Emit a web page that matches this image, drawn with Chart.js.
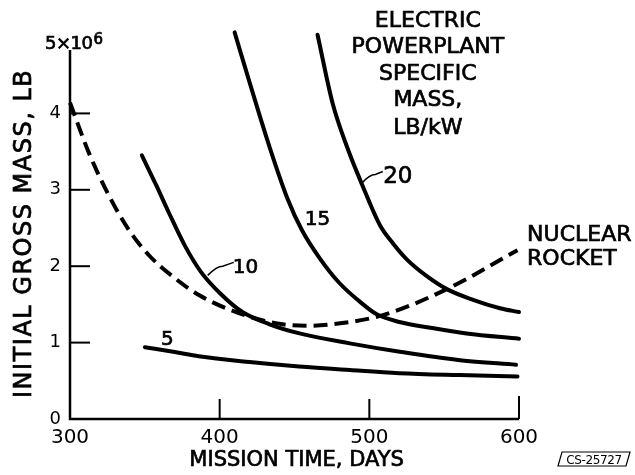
<!DOCTYPE html>
<html>
<head>
<meta charset="utf-8">
<script src="https://cdn.jsdelivr.net/npm/chart.js@4.4.0/dist/chart.umd.min.js"></script>
<style>
  html, body { margin: 0; padding: 0; background: #fff; }
  canvas { display: block; }
</style>
</head>
<body>
<canvas id="chart" width="635" height="475"></canvas>
<script>
// mission time (days) / initial gross mass (millions of lb)
const days5   = [350, 370, 386, 420, 453, 487, 520, 560, 599];
const mass5   = [0.94, 0.876, 0.82, 0.745, 0.686, 0.64, 0.60, 0.575, 0.556];
const days10  = [348, 357.6, 366.3, 377, 387.7, 401.1, 415.2, 433.3, 453.4, 486.9, 520.4, 560.5, 598];
const mass10  = [3.45, 3.06, 2.69, 2.26, 1.92, 1.63, 1.40, 1.24, 1.12, 0.99, 0.88, 0.77, 0.71];
const days15  = [410, 421, 433, 445, 455, 467, 480, 494, 505, 520, 542, 565, 600];
const mass15  = [5.06, 4.34, 3.58, 2.90, 2.47, 2.10, 1.78, 1.53, 1.37, 1.27, 1.19, 1.12, 1.05];
const days20  = [465.4, 475.5, 485.5, 494.9, 507, 515.7, 525, 538.4, 551.8, 569.3, 587.3, 600];
const mass20  = [5.03, 4.13, 3.54, 3.08, 2.54, 2.30, 2.09, 1.87, 1.70, 1.56, 1.45, 1.40];
const daysNuc = [300, 312.7, 326.1, 339.5, 352.9, 368.3, 386.4, 415.2, 442, 460, 475.5, 509, 551.8, 599];
const massNuc = [4.14, 3.48, 2.92, 2.47, 2.14, 1.87, 1.62, 1.37, 1.24, 1.22, 1.24, 1.36, 1.70, 2.21];

const xTicks = [300, 400, 500, 600];
const yTicks = [0, 1, 2, 3, 4];
const yTickLabels = ['0', '1', '2', '3', '4'];
const yTopLabel = ['5×10', '6'];
const xTitle = 'MISSION TIME, DAYS';
const yTitle = 'INITIAL GROSS MASS, LB';
const keyTitle = ['ELECTRIC', 'POWERPLANT', 'SPECIFIC', 'MASS,', 'LB/kW'];
const curveLabels = ['5', '10', '15', '20'];
const nuclearLabel = ['NUCLEAR', 'ROCKET'];
const stampLabel = 'CS-25727';

const FONT = '"DejaVu Sans", sans-serif';

function series(days, mass, dashed) {
    return {
        data: days.map((d, i) => ({ x: d, y: mass[i] })),
        showLine: true,
        borderColor: '#000',
        borderWidth: 4,
        borderDash: dashed ? [14, 7] : [],
        borderCapStyle: dashed ? 'butt' : 'round',
        pointRadius: 0,
        cubicInterpolationMode: 'monotone',
        fill: false,
        clip: false
    };
}

// lettering is a bit heavier than the font, so stroke it lightly too
function ink(ctx, str, x, y) {
    ctx.fillText(str, x, y);
    ctx.strokeText(str, x, y);
}

// axes, inward tick marks and all the lettering
const annotations = {
    id: 'annotations',
    beforeDatasetsDraw(chart) {
        const { ctx, scales: { x, y } } = chart;
        ctx.save();
        ctx.strokeStyle = '#000';
        ctx.lineWidth = 2.5;
        ctx.beginPath();
        ctx.moveTo(x.getPixelForValue(300), y.getPixelForValue(4.83));
        ctx.lineTo(x.getPixelForValue(300), y.getPixelForValue(0));
        ctx.lineTo(x.getPixelForValue(600), y.getPixelForValue(0));
        ctx.stroke();
        ctx.lineWidth = 2;
        yTicks.filter(v => v > 0).forEach(v => {
            const p = y.getPixelForValue(v);
            ctx.beginPath();
            ctx.moveTo(x.left, p);
            ctx.lineTo(x.left + 20, p);
            ctx.stroke();
        });
        xTicks.filter(v => v > 300).forEach(v => {
            const p = x.getPixelForValue(v);
            ctx.beginPath();
            ctx.moveTo(p, y.bottom);
            ctx.lineTo(p, y.bottom - (v === 600 ? 23 : 20));
            ctx.stroke();
        });
        ctx.restore();
    },
    afterDraw(chart) {
        const { ctx, scales: { x, y } } = chart;
        const px = v => x.getPixelForValue(v);
        const py = v => y.getPixelForValue(v);
        ctx.save();
        ctx.fillStyle = '#000';
        ctx.strokeStyle = '#000';
        ctx.lineWidth = 0.7;
        ctx.textBaseline = 'alphabetic';

        // centred on the capitals at a data position
        function label(str, dx, dy, size, align, spacing) {
            ctx.font = size + 'px ' + FONT;
            ctx.textAlign = align || 'center';
            ctx.letterSpacing = (spacing || 0) + 'px';
            ink(ctx, str, px(dx), py(dy) + 0.365 * size);
        }

        // top y label 5x10^6
        ctx.textAlign = 'left';
        ctx.font = '18px ' + FONT;
        ctx.letterSpacing = '-0.5px';
        ink(ctx, yTopLabel[0], 45, py(5) + 12);
        const w = ctx.measureText(yTopLabel[0]).width;
        ctx.font = '15px ' + FONT;
        ctx.letterSpacing = '0px';
        ink(ctx, yTopLabel[1], 45 + w + 1, py(5) + 7);

        // curve labels
        label(curveLabels[0], 365, 1.07, 20);
        label(curveLabels[1], 417.2, 2.01, 20);
        label(curveLabels[2], 465.4, 2.63, 20);
        label(curveLabels[3], 519, 3.20, 23);

        // leaders for 10 and 20
        ctx.lineWidth = 1.5;
        ctx.beginPath();
        ctx.moveTo(px(392), py(1.88));
        ctx.quadraticCurveTo(px(398), py(2.0), px(402), py(2.0));
        ctx.lineTo(px(409.4), py(2.05));
        ctx.moveTo(px(495), py(3.085));
        ctx.quadraticCurveTo(px(500), py(3.2), px(504), py(3.2));
        ctx.lineTo(px(509), py(3.24));
        ctx.stroke();
        ctx.lineWidth = 0.7;

        // key title
        const keyY = [5.24, 4.89, 4.54, 4.20, 3.84];
        keyTitle.forEach((t, i) => label(t, 539.1, keyY[i], 22));

        label(nuclearLabel[0], 605.4, 2.44, 22, 'left');
        label(nuclearLabel[1], 605.4, 2.12, 22, 'left');

        // axis titles
        label(xTitle, 451.4, -0.52, 21);
        ctx.translate(22 + 0.365 * 24, py(2.43));
        ctx.rotate(-Math.PI / 2);
        ctx.font = '24px ' + FONT;
        ctx.textAlign = 'center';
        ctx.letterSpacing = '1.5px';
        ink(ctx, yTitle, 0, 0);
        ctx.setTransform(1, 0, 0, 1, 0, 0);

        // report number stamp
        const sx = chart.width - 78, sy = chart.height - 23;
        ctx.lineWidth = 1.2;
        ctx.beginPath();
        ctx.moveTo(sx + 5, sy);
        ctx.lineTo(sx + 73, sy);
        ctx.lineTo(sx + 69, sy + 14);
        ctx.lineTo(sx + 1, sy + 14);
        ctx.closePath();
        ctx.stroke();
        ctx.font = '12px ' + FONT;
        ctx.letterSpacing = '-0.4px';
        ctx.textAlign = 'center';
        ctx.fillText(stampLabel, sx + 37, sy + 11.5);
        ctx.restore();
    }
};

new Chart(document.getElementById('chart'), {
    type: 'scatter',
    data: {
        datasets: [
            series(days5, mass5),
            series(days10, mass10),
            series(days15, mass15),
            series(days20, mass20),
            series(daysNuc, massNuc, true)
        ]
    },
    options: {
        responsive: false,
        animation: false,
        layout: { padding: { top: 37, right: 116, bottom: 0, left: 0 } },
        plugins: { legend: { display: false }, tooltip: { enabled: false } },
        scales: {
            x: {
                type: 'linear',
                min: 300,
                max: 600,
                afterBuildTicks: s => { s.ticks = xTicks.map(v => ({ value: v })); },
                afterFit: s => { s.height = 56; },
                grid: { display: false, drawTicks: false },
                border: { display: false },
                ticks: { color: '#000', font: { family: FONT, size: 20 }, padding: 7, maxRotation: 0 }
            },
            y: {
                type: 'linear',
                min: 0,
                max: 5,
                afterBuildTicks: s => { s.ticks = yTicks.map(v => ({ value: v })); },
                afterFit: s => { s.width = 70; },
                grid: { display: false, drawTicks: false },
                border: { display: false },
                ticks: {
                    color: '#000',
                    font: { family: FONT, size: 18 },
                    padding: 9,
                    callback: v => yTickLabels[yTicks.indexOf(v)]
                }
            }
        }
    },
    plugins: [annotations]
});
</script>
</body>
</html>
